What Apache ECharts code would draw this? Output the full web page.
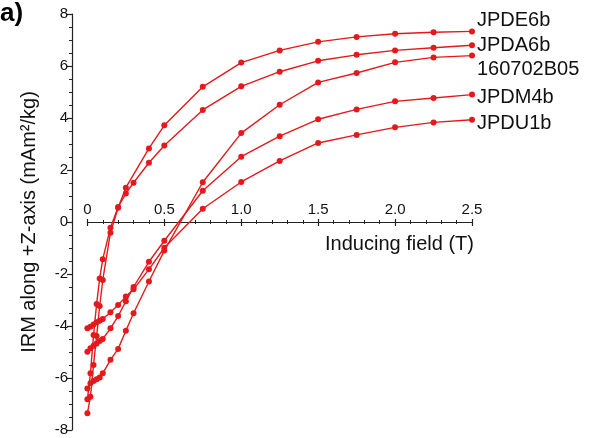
<!DOCTYPE html>
<html>
<head>
<meta charset="utf-8">
<script src="https://cdn.jsdelivr.net/npm/echarts@6/dist/echarts.min.js"></script>
<style>
html,body{margin:0;padding:0;background:#fff;}
#chart{width:589px;height:438px;}
</style>
</head>
<body>
<div id="chart"></div>
<script>
// Inducing field steps (T)
var fields = [0, 0.02, 0.04, 0.06, 0.08, 0.1, 0.15, 0.2, 0.25, 0.3, 0.4, 0.5, 0.75, 1.0, 1.25, 1.5, 1.75, 2.0, 2.25, 2.5];
// IRM along +Z-axis (mAm²/kg)
var JPDE6b    = [-7.36, -6.72, -5.5, -4.38, -3.23, -2.23, -0.41, 0.55, 1.32, null, 2.83, 3.72, 5.2, 6.13, 6.6, 6.93, 7.12, 7.24, 7.3, 7.33];
var JPDA6b    = [-6.82, -5.82, -4.35, -3.15, -2.17, -1.43, -0.22, 0.58, 1.1, 1.51, 2.28, 2.94, 4.31, 5.22, 5.78, 6.2, 6.43, 6.6, 6.7, 6.8];
var S160702B05 = [-6.4, -6.2, -6.12, -6.05, -5.98, -5.82, -5.3, -4.88, -4.18, -3.51, -2.29, -1.1, 1.53, 3.42, 4.51, 5.37, 5.73, 6.14, 6.33, 6.4];
var JPDM4b    = [-4.99, -4.86, -4.76, -4.67, -4.58, -4.5, -4.09, -3.62, -3.05, -2.5, -1.53, -0.72, 1.2, 2.51, 3.3, 3.95, 4.33, 4.64, 4.77, 4.9];
var JPDU1b    = [-4.09, -4.03, -3.94, -3.86, -3.8, -3.73, -3.47, -3.19, -2.87, -2.59, -1.82, -0.99, 0.51, 1.54, 2.35, 3.04, 3.35, 3.64, 3.83, 3.93];
var seriesNames = ['JPDE6b', 'JPDA6b', '160702B05', 'JPDM4b', 'JPDU1b'];
var seriesValues = [JPDE6b, JPDA6b, S160702B05, JPDM4b, JPDU1b];
var xTicks = [0, 0.5, 1.0, 1.5, 2.0, 2.5];
var yTicks = [-8, -6, -4, -2, 0, 2, 4, 6, 8];

var labelOffsets = [-11, 0, 14, 3, 4];
var FONT = "'Liberation Sans', Arial, Helvetica, sans-serif";
var RED = '#e3191c';

function pairs(vals) {
  var out = [];
  for (var i = 0; i < fields.length; i++) {
    if (vals[i] !== null) out.push([fields[i], vals[i]]);
  }
  return out;
}

var series = seriesNames.map(function (name, k) {
  return {
    name: name,
    type: 'line',
    xAxisIndex: 0,
    yAxisIndex: 0,
    data: pairs(seriesValues[k]),
    symbol: 'circle',
    symbolSize: 6,
    showSymbol: true,
    itemStyle: { color: RED },
    lineStyle: { color: RED, width: 1.4 },
    endLabel: {
      show: true,
      formatter: name,
      fontFamily: FONT,
      fontSize: 20,
      color: '#111',
      distance: 5,
      offset: [0, labelOffsets[k]]
    },
    animation: false
  };
});

var chart = echarts.init(document.getElementById('chart'), null, { renderer: 'canvas' });
var xAxisCommon = {
  type: 'value', gridIndex: 1, min: 0, max: 2.5, interval: 0.5, position: 'bottom',
  splitLine: { show: false }
};
chart.setOption({
  animation: false,
  backgroundColor: '#fff',
  textStyle: { fontFamily: FONT },
  grid: [
    { left: 72, right: 117, top: 14, bottom: 8, containLabel: false },
    { left: 87.4, right: 117, top: 14, bottom: 216, containLabel: false }
  ],
  xAxis: [
    { type: 'value', gridIndex: 0, min: -0.1, max: 2.5, show: false },
    Object.assign({}, xAxisCommon, {
      axisLine: { show: true, onZero: false, lineStyle: { color: '#222', width: 1.2 } },
      axisTick: { show: true, inside: false, length: 4, lineStyle: { color: '#222', width: 1.2 } },
      minorTick: { show: true, splitNumber: 5, length: 2, lineStyle: { color: '#222', width: 1 } },
      axisLabel: {
        show: true, inside: true, margin: 5, fontSize: 15, color: '#111', fontFamily: FONT,
        formatter: function (v) { return v === 0 ? '0' : v.toFixed(1); }
      }
    }),
    Object.assign({}, xAxisCommon, {
      axisLine: { show: false, onZero: false },
      axisTick: { show: true, inside: true, length: 3, lineStyle: { color: '#222', width: 1.2 } },
      minorTick: { show: true, splitNumber: 5, length: 2, lineStyle: { color: '#222', width: 1 } },
      axisLabel: { show: false }
    })
  ],
  yAxis: [
    {
      type: 'value', gridIndex: 0, min: -8, max: 8, interval: 2,
      name: 'IRM along +Z-axis (mAm²/kg)',
      nameLocation: 'middle', nameGap: 33,
      nameTextStyle: { fontSize: 20, color: '#111', fontFamily: FONT },
      axisLine: { show: true, onZero: false, lineStyle: { color: '#222', width: 1.2 } },
      axisTick: { show: true, inside: false, length: 5, lineStyle: { color: '#222', width: 1.2 } },
      minorTick: { show: true, splitNumber: 4, length: 3, lineStyle: { color: '#222', width: 1 } },
      splitLine: { show: false },
      axisLabel: { fontSize: 15, color: '#111', margin: 4, fontFamily: FONT }
    },
    { type: 'value', gridIndex: 1, min: 0, max: 1, show: false }
  ],
  graphic: [
    { type: 'text', left: 0, top: 1, style: { text: 'a)', font: "bold 26px " + FONT, fill: '#000' } },
    { type: 'text', right: 115, top: 234, style: { text: 'Inducing field (T)', font: "20px " + FONT, fill: '#111' } }
  ],
  series: series
});
</script>
</body>
</html>
